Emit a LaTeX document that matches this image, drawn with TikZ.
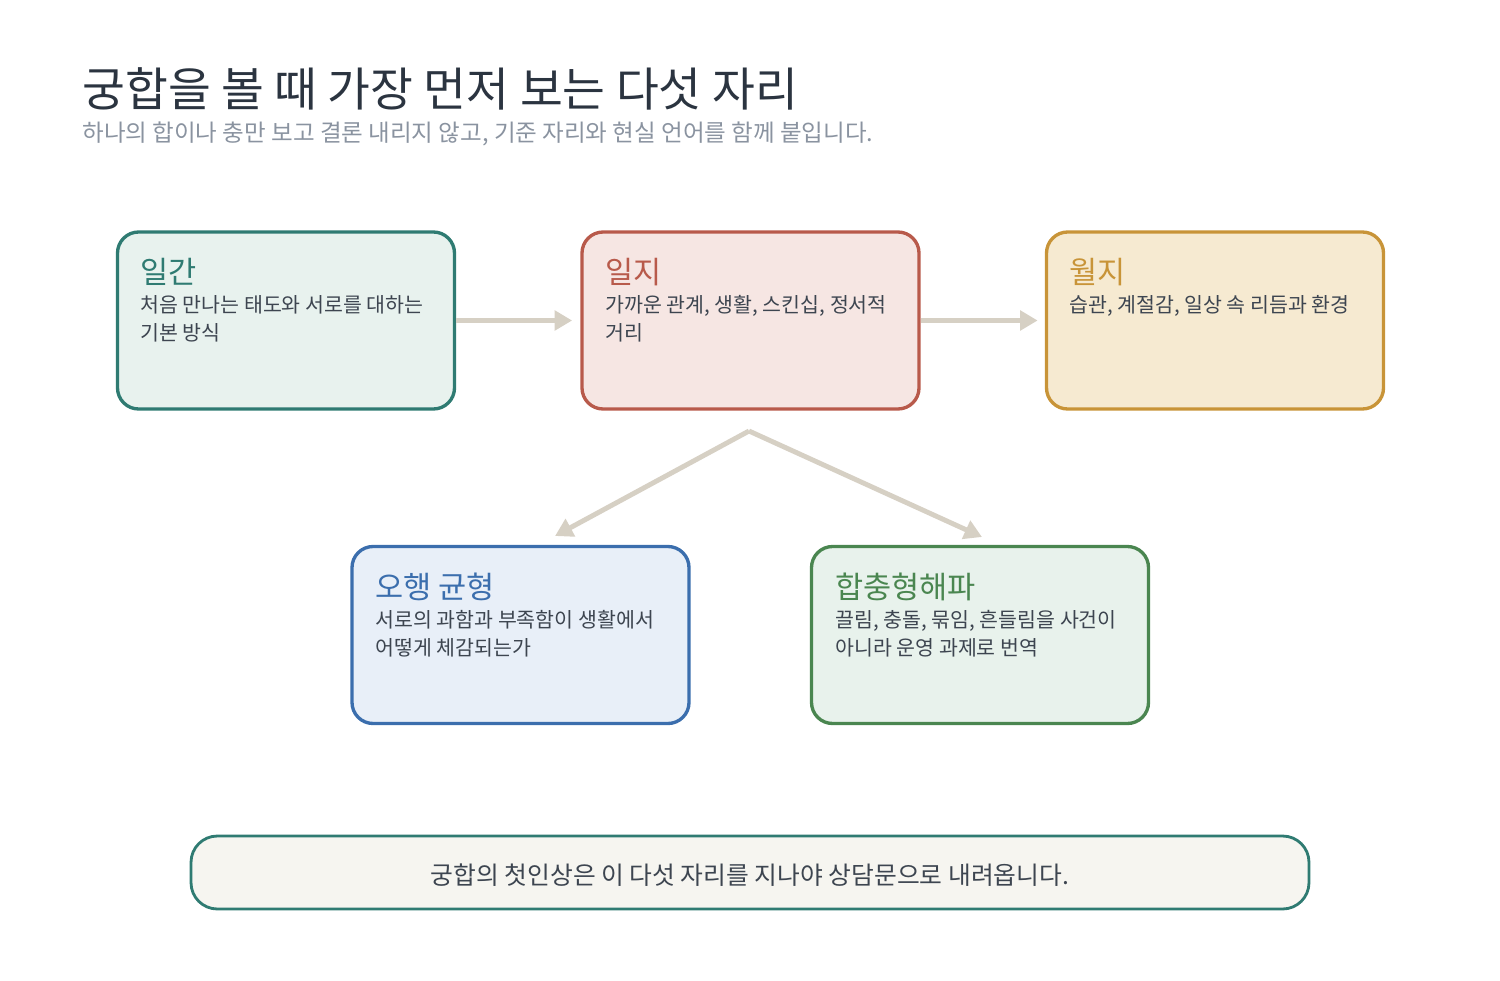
\documentclass[tikz,border=0pt]{standalone}
\usepackage{fontspec}
\setmainfont{Noto Sans CJK KR}
\usepackage{xcolor}
\usepackage{tikz}
\usetikzlibrary{arrows.meta, positioning}

\definecolor{inkdark}{HTML}{2B3440}
\definecolor{inkgray}{HTML}{8A93A0}
\definecolor{inkbody}{HTML}{3D4550}
\definecolor{linkgray}{HTML}{D6D0C4}
\definecolor{tealline}{HTML}{2F7B72}
\definecolor{tealfill}{HTML}{E8F2EE}
\definecolor{redline}{HTML}{B85A4B}
\definecolor{redfill}{HTML}{F6E6E3}
\definecolor{goldline}{HTML}{C89438}
\definecolor{goldfill}{HTML}{F6EAD1}
\definecolor{blueline}{HTML}{3B6EAD}
\definecolor{bluefill}{HTML}{E8EFF8}
\definecolor{greenline}{HTML}{4A8650}
\definecolor{greenfill}{HTML}{E8F2EC}
\definecolor{notefill}{HTML}{F6F5F0}

\newlength{\pxu}
\setlength{\pxu}{0.02cm}
\tikzstyle{seat} = [rectangle, rounded corners=12pt, line width=1.9pt, minimum width=337\pxu, minimum height=177\pxu, inner sep=0pt]
\tikzstyle{seattitle} = [anchor=base west, inner sep=0pt, font=\fontsize{17.4}{20}\selectfont]
\tikzstyle{seatbody} = [anchor=base west, inner sep=0pt, align=left, text=inkbody, font=\fontsize{11.7}{15.9}\selectfont]
\tikzstyle{link} = [line width=2.8pt, draw=linkgray, -{Triangle[length=10pt, width=11pt]}]

\begin{document}
\begin{tikzpicture}[x=0.02cm, y=-0.02cm]
    \useasboundingbox (0,0) rectangle (1500,980);

    % heading
    \node (head) [anchor=base west, inner sep=0pt, text=inkdark, font=\fontsize{26.5}{30}\selectfont] at (82,107) {궁합을 볼 때 가장 먼저 보는 다섯 자리};
    \node (sub) [anchor=base west, inner sep=0pt, text=inkgray, font=\fontsize{13.4}{16}\selectfont] at (82,141) {하나의 합이나 충만 보고 결론 내리지 않고, 기준 자리와 현실 언어를 함께 붙입니다.};

    % Define blocks
    \node (ilgan) [seat, draw=tealline, fill=tealfill] at (286,320.5) {};
    \node (ilji) [seat, draw=redline, fill=redfill] at (750.5,320.5) {};
    \node (wolji) [seat, draw=goldline, fill=goldfill] at (1215,320.5) {};
    \node (ohaeng) [seat, draw=blueline, fill=bluefill] at (520.5,635) {};
    \node (hapchung) [seat, draw=greenline, fill=greenfill] at (980,635) {};

    % block texts (base of the last line)
    \node (ilgant) [seattitle, text=tealline] at (140,283) {일간};
    \node (ilganb) [seatbody] at (140,340) {처음 만나는 태도와 서로를 대하는\\기본 방식};
    \node (iljit) [seattitle, text=redline] at (605,283) {일지};
    \node (iljib) [seatbody] at (605,340) {가까운 관계, 생활, 스킨십, 정서적\\거리};
    \node (wolgit) [seattitle, text=goldline] at (1069,283) {월지};
    \node (wolgib) [seatbody] at (1069,312) {습관, 계절감, 일상 속 리듬과 환경};
    \node (ohaengt) [seattitle, text=blueline] at (375,598) {오행 균형};
    \node (ohaengb) [seatbody] at (375,655) {서로의 과함과 부족함이 생활에서\\어떻게 체감되는가};
    \node (hapchungt) [seattitle, text=greenline] at (835,598) {합충형해파};
    \node (hapchungb) [seatbody] at (835,655) {끌림, 충돌, 묶임, 흔들림을 사건이\\아니라 운영 과제로 번역};

    % closing note
    \node (note) [rectangle, rounded corners=15pt, line width=1.6pt, draw=tealline, fill=notefill, minimum width=1118\pxu, minimum height=73\pxu, inner sep=0pt, text=inkbody, font=\fontsize{14.1}{17}\selectfont] at (750,872.5) {};
    \node (notetext) [anchor=base, inner sep=0pt, text=inkbody, font=\fontsize{14.1}{17}\selectfont] at (750,884) {궁합의 첫인상은 이 다섯 자리를 지나야 상담문으로 내려옵니다.};

    % Draw arrows
    \coordinate (fork) at (749,431);
    \coordinate (forkl) at (555,536);
    \coordinate (forkr) at (982,537);
    \draw [link] (ilgan.east) -- ++(116,0);
    \draw [link] (ilji.east) -- ++(117,0);
    \draw [link] (fork) -- (forkl);
    \draw [link] (fork) -- (forkr);
\end{tikzpicture}
\end{document}
